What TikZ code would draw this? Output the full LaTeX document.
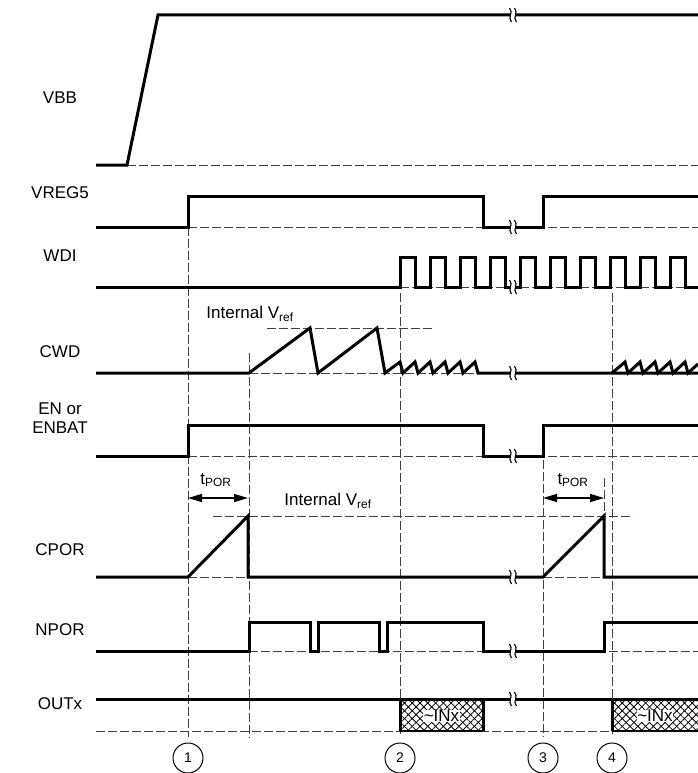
\documentclass[tikz,border=0pt]{standalone}
\usepackage{fontspec}
\setmainfont{Liberation Sans}
\usetikzlibrary{arrows.meta,patterns.meta}
\tikzset{
  sig/.style={line width=3pt, line join=miter},
  guide/.style={line width=0.8pt, black!75, dash pattern=on 9pt off 3pt},
  lbl/.style={font=\fontsize{17}{19}\selectfont, align=center, inner sep=1pt},
  num/.style={circle, draw, line width=1pt, minimum size=30pt, inner sep=0pt, font=\fontsize{14}{14}\selectfont},
  hatch/.style={pattern={Lines[angle=#1,distance=5.5pt,line width=0.8pt]}},
  tpor/.style={{Triangle[length=14pt,width=8pt]}-{Triangle[length=14pt,width=8pt]}, line width=1.2pt},
  brk/.pic={
    \fill[white] (-2.2,-2.5) rectangle (2.2,2.5);
    \draw[line width=1.1pt] (-3.5,-7) .. controls (1,-2) and (-6,2) .. (-1.5,7);
    \draw[line width=1.1pt] (1.5,-7) .. controls (6,-2) and (-1,2) .. (3.5,7);
  }
}
\begin{document}
\begin{tikzpicture}[x=1pt,y=-1pt]
\useasboundingbox (0,0) rectangle (698,773);
% signal names
\node[lbl] (vbb) at (60,98) {VBB};
\node[lbl] (vreg) at (60,193) {VREG5};
\node[lbl] (wdi) at (60,256) {WDI};
\node[lbl] (cwd) at (60,352) {CWD};
\node[lbl] (en) at (60,418) {EN or\\ENBAT};
\node[lbl] (cpor) at (60,550) {CPOR};
\node[lbl] (npor) at (60,630) {NPOR};
\node[lbl] (outx) at (60,704) {OUTx};
% event markers
\node[num] (m1) at (188,758) {1};
\node[num] (m2) at (400,758) {2};
\node[num] (m3) at (543,758) {3};
\node[num] (m4) at (612,758) {4};
\draw[guide, shorten >=6pt] (188,227) -- (m1);
\draw[guide] (249,353) -- (249,738);
\draw[guide, shorten >=6pt] (400,293) -- (m2);
\draw[guide, shorten >=6pt] (543,460) -- (m3);
\draw[guide, shorten >=6pt] (612,293) -- (m4);
% low levels and thresholds
\draw[guide] (127,165) -- (698,165);
\draw[guide] (188,227) -- (698,227);
\draw[guide] (400,287) -- (698,287);
\draw[guide] (249,373) -- (698,373);
\draw[guide] (267,328) -- (433,328);
\draw[guide] (188,456) -- (698,456);
\draw[guide] (213,516) -- (633,516);
\draw[guide] (188,577) -- (248,577);
\draw[guide] (543,577) -- (604,577);
\draw[guide] (604,478) -- (604,516);
\draw[guide] (249,651) -- (698,651);
\draw[guide] (96,731) -- (698,731);
\node[lbl] (vref1) at (250,314) {Internal V\textsubscript{ref}};
\node[lbl] (vref2) at (328,501) {Internal V\textsubscript{ref}};
% VBB
\draw[sig] (96,165) -- (127,165) -- (158,15) -- (698,15);
% VREG5
\draw[sig] (96,227) -- (188,227) -- (188,196) -- (483,196) -- (483,227)
  -- (543,227) -- (543,196) -- (698,196);
% WDI
\draw[sig] (96,287) \foreach \x in {400,430,460,490} { -- (\x,287) -- (\x,257) -- (\x+15,257) -- (\x+15,287) }
  \foreach \x in {520,550,...,670} { -- (\x,287) -- (\x,257) -- (\x+15,257) -- (\x+15,287) } -- (698,287);
% CWD
\draw[sig] (96,373) -- (249,373) -- (310,328) -- (318,373) -- (377,328) -- (385,373)
  \foreach \p in {400,415,...,475} { -- (\p,362) -- (\p+3,373) } -- (698,373);
\draw[sig] (612,373) \foreach \p in {625,640,655,670,685} { -- (\p,362) -- (\p+3,373) } -- (698,364);
% EN / ENBAT
\draw[sig] (96,456) -- (188,456) -- (188,425) -- (483,425) -- (483,456)
  -- (543,456) -- (543,425) -- (698,425);
% CPOR
\draw[sig] (96,577) -- (188,577) -- (248,516) -- (248,577) -- (543,577) -- (604,516) -- (604,577) -- (698,577);
\draw[tpor] (188,498) -- (248,498);
\draw[tpor] (543,498) -- (604,498);
\node[lbl] (tpor1) at (216,480) {t\textsubscript{POR}};
\node[lbl] (tpor2) at (573,480) {t\textsubscript{POR}};
% NPOR
\draw[sig] (96,651) -- (249,651) -- (249,622) -- (310,622) -- (310,651) -- (318,651) -- (318,622)
  -- (379,622) -- (379,651) -- (387,651) -- (387,622) -- (483,622) -- (483,651)
  -- (604,651) -- (604,622) -- (698,622);
% OUTx
\fill[hatch=45] (400,699) rectangle (483,731);
\fill[hatch=-45] (400,699) rectangle (483,731);
\fill[hatch=45] (612,699) rectangle (698,731);
\fill[hatch=-45] (612,699) rectangle (698,731);
\draw[line width=1.2pt] (400,731) -- (483,731);
\draw[line width=1.2pt] (612,731) -- (698,731);
\draw[sig] (400,731) -- (400,699);
\draw[sig] (483,699) -- (483,731);
\draw[sig] (612,731) -- (612,699);
\draw[sig] (96,699) -- (698,699);
\node[lbl, fill=white, inner sep=0.5pt] (inx1) at (441.5,716) {\textasciitilde INx};
\node[lbl, fill=white, inner sep=0.5pt] (inx2) at (655,716) {\textasciitilde INx};
% breaks in time axis
\foreach \y in {15,227,287,373,456,577,651,699}
  \pic at (513,\y) {brk};
\end{tikzpicture}
\end{document}
